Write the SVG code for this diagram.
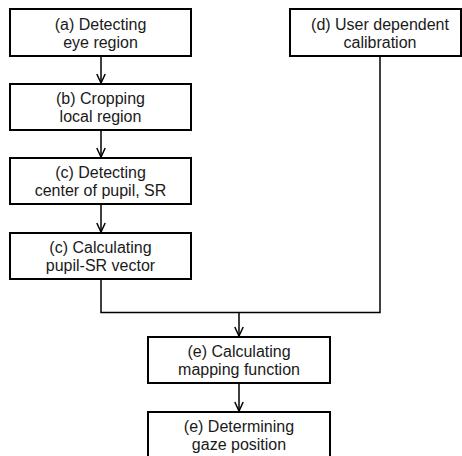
<svg xmlns="http://www.w3.org/2000/svg" width="462" height="456" viewBox="0 0 462 456">
<style>
.box{fill:#fff;stroke:#000;stroke-width:2}
.t{font-family:"Liberation Sans","Noto Sans CJK KR",sans-serif;font-size:16px;fill:#1a1a1a;text-anchor:middle}
.c{fill:none;stroke:#000;stroke-width:1.5}
</style>
<defs>
<marker id="ah" markerWidth="12" markerHeight="10" refX="10" refY="5" orient="auto" markerUnits="userSpaceOnUse">
<path d="M1,0.8 L10,5 L1,9.2" fill="none" stroke="#000" stroke-width="1.5"/>
</marker>
</defs>
<rect width="462" height="456" fill="#fff"/>
<g id="connectors">
<line class="c" x1="101" y1="56" x2="101" y2="83" marker-end="url(#ah)"/>
<line class="c" x1="101" y1="130" x2="101" y2="157" marker-end="url(#ah)"/>
<line class="c" x1="101" y1="204" x2="101" y2="232" marker-end="url(#ah)"/>
<polyline class="c" points="101,279 101,312.5 380,312.5 380,56"/>
<line class="c" x1="239" y1="312.5" x2="239" y2="336" marker-end="url(#ah)"/>
<line class="c" x1="239" y1="383" x2="239" y2="411" marker-end="url(#ah)"/>
</g>
<g id="a"><rect class="box" x="10" y="9" width="181" height="47"/><text class="t" x="100.5" y="29.5">(a) Detecting</text><text class="t" x="100.5" y="47.5">eye region</text></g>
<g id="b"><rect class="box" x="10" y="84" width="181" height="46"/><text class="t" x="100.5" y="103.5">(b) Cropping</text><text class="t" x="100.5" y="121.5">local region</text></g>
<g id="c1"><rect class="box" x="10" y="158" width="181" height="46"/><text class="t" x="100.5" y="177.5">(c) Detecting</text><text class="t" x="100.5" y="195.5">center of pupil, SR</text></g>
<g id="c2"><rect class="box" x="10" y="233" width="181" height="46"/><text class="t" x="100.5" y="252.5">(c) Calculating</text><text class="t" x="100.5" y="270.5">pupil-SR vector</text></g>
<g id="d"><rect class="box" x="290" y="9" width="171" height="47"/><text class="t" x="380" y="29.5">(d) User dependent</text><text class="t" x="380" y="47.5">calibration</text></g>
<g id="e1"><rect class="box" x="148" y="337" width="182" height="46"/><text class="t" x="239" y="356.5">(e) Calculating</text><text class="t" x="239" y="374.5">mapping function</text></g>
<g id="e2"><rect class="box" x="148" y="412" width="182" height="50"/><text class="t" x="239" y="431.5">(e) Determining</text><text class="t" x="239" y="449.5">gaze position</text></g>
</svg>
